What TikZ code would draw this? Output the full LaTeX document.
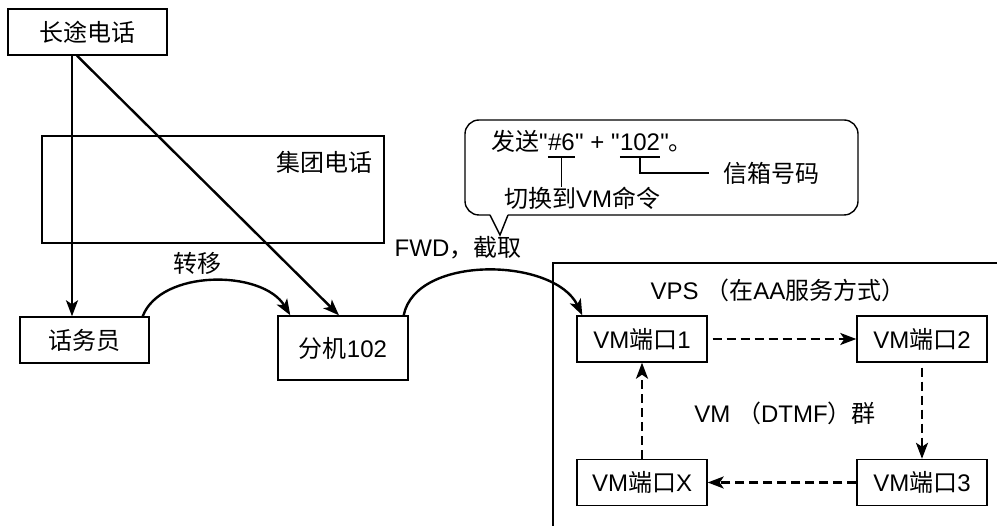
\documentclass[tikz,border=0pt]{standalone}
\usepackage{fontspec}
\setmainfont{Liberation Sans}
\newfontfamily\cjk{Noto Sans CJK SC}
\usetikzlibrary{arrows.meta}

\begin{document}
\begin{tikzpicture}[x=1pt,y=-1pt,
  box/.style={draw, line width=1.4pt, inner sep=0pt, font=\fontsize{24}{28}\selectfont},
  port/.style={box, minimum width=130pt, minimum height=46pt},
  txt/.style={inner sep=0pt, font=\fontsize{24}{28}\selectfont},
  arr/.style={line width=2.4pt, -{Stealth[length=16pt, width=12pt, inset=4pt]}},
  dasharr/.style={arr, dash pattern=on 9pt off 5pt}]
\useasboundingbox (0,0) rectangle (997,526);
% left side
\node[box, minimum width=159pt, minimum height=46pt] (trunk) at (87.5,32) {\cjk 长途电话};
\node[box, minimum width=342pt, minimum height=107pt] (group) at (213,189.5) {};
\node[txt] (grouplbl) at (324,162) {\cjk 集团电话};
\node[box, minimum width=129pt, minimum height=46pt] (attd) at (84.5,340) {\cjk 话务员};
\node[box, minimum width=130pt, minimum height=64pt] (ext) at (343,348) {{\cjk 分机}102};
\node[txt] (xfer) at (197,263) {\cjk 转移};
\node[txt] (fwd) at (458,248) {FWD{\cjk ，截取}};
\draw[arr] ([xshift=-15.5pt]trunk.south) -- ([xshift=-12.5pt]attd.north);
\draw[arr] ([xshift=-10.5pt]trunk.south) -- ([xshift=-4pt]ext.north);
\draw[arr] ([xshift=-7pt]attd.north east) .. controls +(18,-47) and +(-28,-46) .. ([xshift=13pt]ext.north west);
% callout
\draw[line width=1.4pt, rounded corners=14pt] (508,215) -- (858,215) -- (858,120) -- (465,120) -- (465,215) -- (490,215);
\draw[line width=1.4pt] (490,215) -- (500,235) -- (508,215);
\node[txt, anchor=base west] (snd) at (491,151) {{\cjk 发送}\textquotedbl};
\node[txt, anchor=base west] (key) at (snd.base east) {\#6};
\node[txt, anchor=base west] (plus) at (key.base east) {\textquotedbl{} + \textquotedbl};
\node[txt, anchor=base west] (mbox) at (plus.base east) {102};
\node[txt, anchor=base west] (stop) at (mbox.base east) {\textquotedbl{\cjk 。}};
\node[txt] (cmd) at (582,198) {{\cjk 切换到}VM{\cjk 命令}};
\node[txt] (mbxlbl) at (771,173) {\cjk 信箱号码};
\draw[line width=1.4pt] ([yshift=-6pt]key.base west) -- ([yshift=-6pt]key.base east);
\draw[line width=1.4pt] ([yshift=-6pt]mbox.base west) -- ([yshift=-6pt]mbox.base east);
\draw[line width=1.4pt] ([yshift=-6pt]key.base) -- (key.base |- cmd.north);
\draw[line width=1.4pt] ([yshift=-6pt]mbox.base) |- ([xshift=-14pt]mbxlbl.west);
% VPS
\draw[line width=1.4pt] (553,526) -- (553,263) -- (997,263);
\node[txt] (vpslbl) at (778,290) {VPS {\cjk （在}AA{\cjk 服务方式）}};
\node[port] (vm1) at (642,339) {VM{\cjk 端口}1};
\node[port] (vm2) at (922,339) {VM{\cjk 端口}2};
\node[port] (vm3) at (922,482.5) {VM{\cjk 端口}3};
\node[port] (vmx) at (642,482.5) {VM{\cjk 端口}X};
\node[txt] (grp) at (785,413) {VM {\cjk （}DTMF{\cjk ）群}};
\draw[arr] ([xshift=-5pt]ext.north east) .. controls +(12,-61) and +(-28,-58) .. ([xshift=6pt]vm1.north west);
\draw[dasharr, shorten <=5pt] (vm1) -- (vm2);
\draw[dasharr, shorten <=5pt] (vm2) -- (vm3);
\draw[dasharr] (vm3) -- (vmx);
\draw[dasharr] (vmx) -- (vm1);
\end{tikzpicture}
\end{document}
